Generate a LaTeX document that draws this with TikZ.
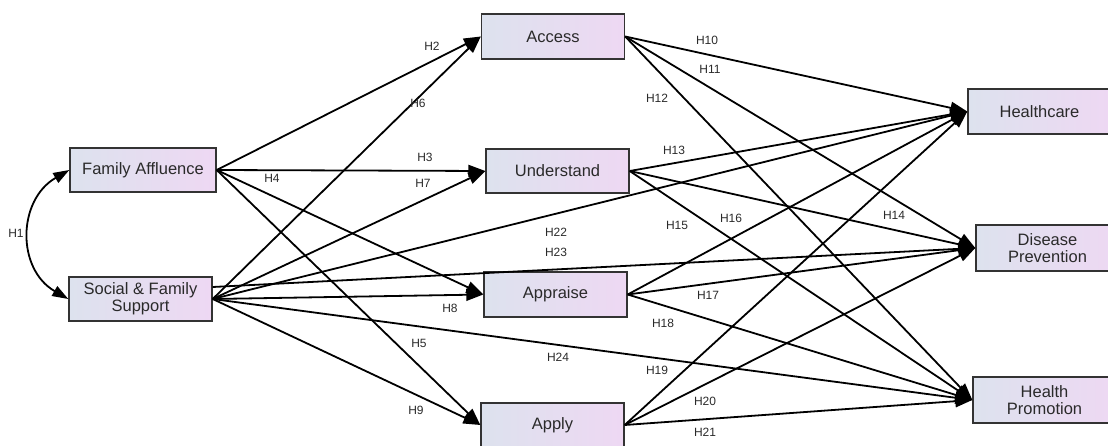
\documentclass[tikz,border=0pt]{standalone}
\usepackage{fontspec}
\setmainfont{Liberation Sans}
\usetikzlibrary{arrows.meta}
\definecolor{boxl}{HTML}{DDE2EE}
\definecolor{boxr}{HTML}{EED8F3}
\definecolor{txt}{HTML}{2A2A2A}
\begin{document}
\begin{tikzpicture}[x=1pt,y=-1pt,
  box/.style={draw=black!80, line width=1.4pt, left color=boxl, right color=boxr,
    minimum width=143pt, minimum height=44pt, align=center, inner sep=0pt,
    font=\fontsize{16.5}{17}\selectfont, text=txt},
  arr/.style={line width=1.8pt, -{Triangle[length=17pt,width=12pt]}},
  hl/.style={font=\fontsize{12}{14}\selectfont, text=txt, inner sep=0pt}]
\useasboundingbox (0,0) rectangle (1108,446);
% nodes
\node[box, minimum width=146pt] (fa) at (143,170) {Family Affluence};
\node[box] (sfs) at (140.5,299) {Social \& Family\\Support};
\node[box, minimum height=45pt] (acc) at (553,36.5) {Access};
\node[box] (und) at (557.5,171) {Understand};
\node[box, minimum height=45pt] (apr) at (555.5,294.5) {Appraise};
\node[box] (apl) at (552.5,425) {Apply};
\node[box, minimum height=45pt] (hc) at (1039.5,111.5) {Healthcare};
\node[box, minimum height=46pt] (dp) at (1047.5,248) {Disease\\Prevention};
\node[box, minimum height=46pt] (hp) at (1044.5,400) {Health\\Promotion};
% H1 covariance
\draw[line width=1.8pt, {Triangle[length=16pt,width=11pt]}-{Triangle[length=16pt,width=11pt]}]
  (fa.west) .. controls +(-52,30) and +(-52,-30) .. (sfs.west);
% first layer
\draw[arr] (fa.east) -- (acc.west);
\draw[arr] (fa.east) -- (und.west);
\draw[arr] (fa.east) -- (apr.west);
\draw[arr] (fa.east) -- (apl.west);
\draw[arr] (sfs.east) -- (acc.west);
\draw[arr] (sfs.east) -- (und.west);
\draw[arr] (sfs.east) -- (apr.west);
\draw[arr] (sfs.east) -- (apl.west);
% second layer
\draw[arr] (acc.east) -- (hc.west);
\draw[arr] (acc.east) -- (dp.west);
\draw[arr] (acc.east) -- (hp.west);
\draw[arr] (und.east) -- (hc.west);
\draw[arr] (und.east) -- (dp.west);
\draw[arr] (und.east) -- (hp.west);
\draw[arr] (apr.east) -- (hc.west);
\draw[arr] (apr.east) -- (dp.west);
\draw[arr] (apr.east) -- (hp.west);
\draw[arr] (apl.east) -- (hc.west);
\draw[arr] (apl.east) -- (dp.west);
\draw[arr] (apl.east) -- (hp.west);
% direct paths
\draw[arr] (sfs.east) -- (hc.west);
\draw[arr] ([yshift=12pt]sfs.east) -- (dp.west);
\draw[arr] (sfs.east) -- (hp.west);
% labels
\node[hl] (l1) at (16,233) {H1};
\node[hl] (l2) at (432,46) {H2};
\node[hl] (l3) at (425,157) {H3};
\node[hl] (l4) at (272,178) {H4};
\node[hl] (l5) at (419,343) {H5};
\node[hl] (l6) at (418,103) {H6};
\node[hl] (l7) at (423,183) {H7};
\node[hl] (l8) at (450,308) {H8};
\node[hl] (l9) at (416,410) {H9};
\node[hl] (l10) at (707,40) {H10};
\node[hl] (l11) at (710,69) {H11};
\node[hl] (l12) at (657,98) {H12};
\node[hl] (l13) at (674,150) {H13};
\node[hl] (l14) at (894,215) {H14};
\node[hl] (l15) at (677,225) {H15};
\node[hl] (l16) at (731,218) {H16};
\node[hl] (l17) at (708,295) {H17};
\node[hl] (l18) at (663,323) {H18};
\node[hl] (l19) at (657,370) {H19};
\node[hl] (l20) at (705,401) {H20};
\node[hl] (l21) at (705,432) {H21};
\node[hl] (l22) at (556,232) {H22};
\node[hl] (l23) at (556,252) {H23};
\node[hl] (l24) at (558,357) {H24};
\end{tikzpicture}
\end{document}
